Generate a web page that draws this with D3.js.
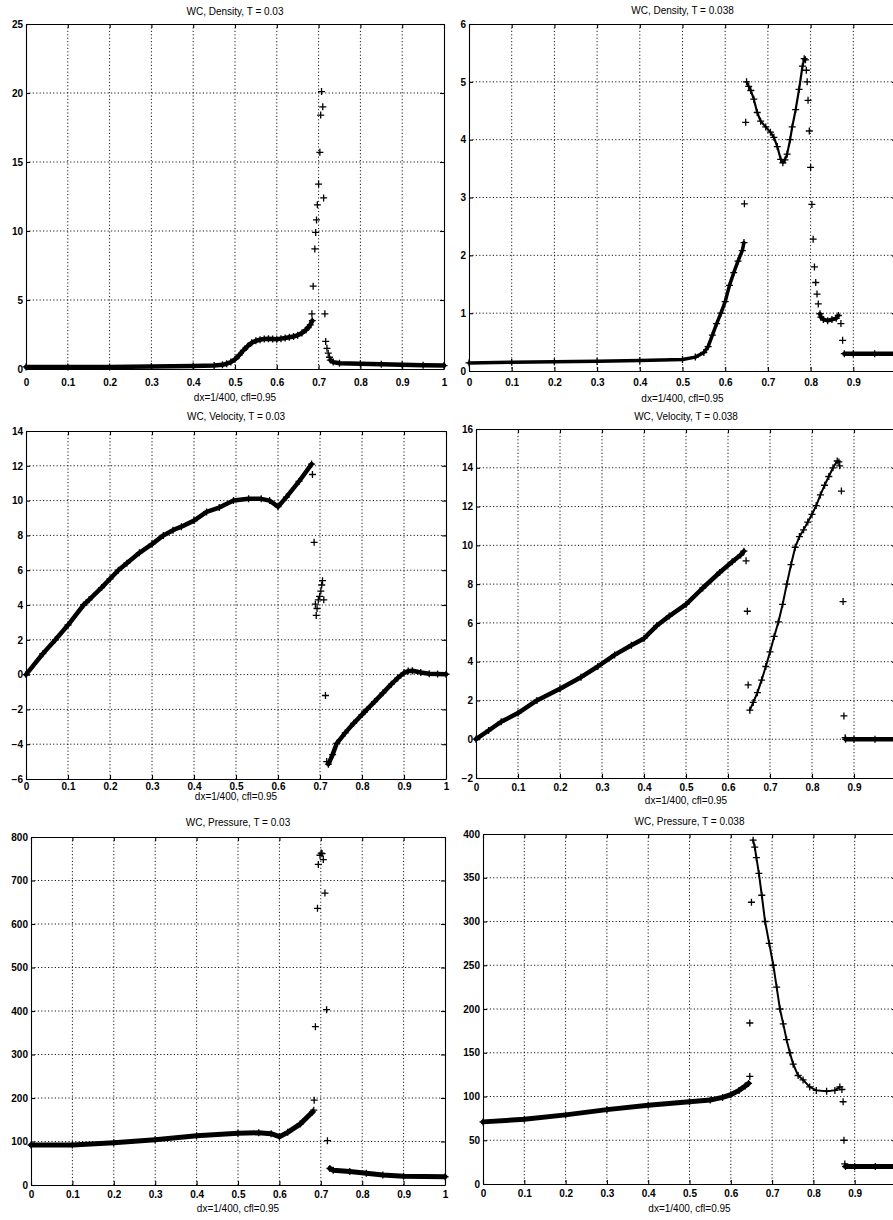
<!DOCTYPE html>
<html>
<head>
<meta charset="utf-8">
<style>
  body { margin: 0; background: #fff; }
  svg { display: block; font-family: "Liberation Sans", Arial, Helvetica, sans-serif; }
  .title, .xlab { font-size: 10px; fill: #000; text-anchor: middle; }
  .tick text { font-size: 10px; font-weight: bold; fill: #000; }
  .domain, .tick line { stroke: #000; stroke-width: 1.1; }
  .grid { stroke: #000; stroke-width: 0.9; stroke-dasharray: 1.2,2.2; }
</style>
<script src="https://cdn.jsdelivr.net/npm/d3@7/dist/d3.min.js"></script>
</head>
<body>
<div id="chart"></div>
<script>
// tick labels
var xTicks = [0, 0.1, 0.2, 0.3, 0.4, 0.5, 0.6, 0.7, 0.8, 0.9, 1];
var rhoTicks03 = [0, 5, 10, 15, 20, 25];
var rhoTicks038 = [0, 1, 2, 3, 4, 5, 6];
var velTicks03 = [-6, -4, -2, 0, 2, 4, 6, 8, 10, 12, 14];
var velTicks038 = [-2, 0, 2, 4, 6, 8, 10, 12, 14, 16];
var presTicks03 = [0, 100, 200, 300, 400, 500, 600, 700, 800];
var presTicks038 = [0, 50, 100, 150, 200, 250, 300, 350, 400];
var titles = ["WC, Density, T = 0.03", "WC, Density, T = 0.038",
              "WC, Velocity, T = 0.03", "WC, Velocity, T = 0.038",
              "WC, Pressure, T = 0.03", "WC, Pressure, T = 0.038"];
var xLabel = "dx=1/400, cfl=0.95";

// density T=0.03
var rho03A = [[0,0.15],[0.1,0.15],[0.2,0.15],[0.3,0.18],[0.4,0.22],[0.45,0.25],[0.47,0.3],[0.48,0.38],[0.49,0.5],
  [0.5,0.7],[0.51,1.0],[0.52,1.35],[0.53,1.65],[0.54,1.9],[0.55,2.05],[0.56,2.12],[0.57,2.18],[0.58,2.2],[0.59,2.18],
  [0.6,2.15],[0.61,2.2],[0.62,2.25],[0.63,2.3],[0.64,2.35],[0.65,2.45],[0.66,2.6],[0.67,2.85],[0.675,3.0],[0.68,3.2],[0.685,3.5]];
var rho03Pts = [[0.684,4.0],[0.687,6.0],[0.691,8.7],[0.693,9.9],[0.695,10.8],[0.697,11.9],[0.7,13.4],[0.703,15.7],
  [0.705,18.4],[0.707,20.1],[0.71,19.0],[0.712,12.4],[0.715,4.0],[0.717,2.0],[0.72,1.5],[0.723,1.15],[0.726,0.85]];
var rho03B = [[0.728,0.65],[0.735,0.5],[0.75,0.42],[0.8,0.38],[0.85,0.35],[0.9,0.3],[0.95,0.28],[1,0.25]];

// density T=0.038
var rho038A = [[0,0.14],[0.1,0.15],[0.2,0.16],[0.3,0.17],[0.4,0.18],[0.5,0.2],[0.53,0.24],[0.55,0.32],[0.56,0.42],
  [0.57,0.62],[0.58,0.82],[0.59,1.0],[0.6,1.2],[0.61,1.48],[0.62,1.7],[0.63,1.9],[0.64,2.08],[0.644,2.22]];
var rho038Pts1 = [[0.645,2.89],[0.648,4.3]];
var rho038B = [[0.65,5.0],[0.655,4.92],[0.66,4.85],[0.667,4.7],[0.675,4.47],[0.683,4.32],[0.695,4.22],[0.706,4.13],
  [0.714,4.04],[0.722,3.88],[0.73,3.66],[0.735,3.6],[0.74,3.65],[0.745,3.75],[0.752,4.0],[0.757,4.22],[0.765,4.52],
  [0.773,4.87],[0.781,5.27],[0.785,5.4],[0.788,5.38]];
var rho038Pts2 = [[0.79,5.2],[0.792,5.0],[0.794,4.68],[0.797,4.15],[0.8,3.52],[0.803,2.88],[0.806,2.28],[0.809,1.8],
  [0.812,1.53],[0.815,1.33],[0.818,1.16]];
var rho038C = [[0.822,0.99],[0.824,0.93],[0.83,0.89],[0.84,0.87],[0.85,0.89],[0.86,0.91],[0.865,0.96]];
var rho038Pts3 = [[0.871,0.82],[0.875,0.53]];
var rho038D = [[0.879,0.3],[0.9,0.3],[0.95,0.3],[1,0.3]];

// velocity T=0.03
var vel03A = [[0,0],[0.04,1.2],[0.07,2.0],[0.1,2.85],[0.137,4.0],[0.15,4.3],[0.18,5.0],[0.2,5.5],[0.22,6.0],[0.24,6.4],
  [0.27,7.0],[0.3,7.5],[0.327,8.0],[0.35,8.3],[0.37,8.5],[0.4,8.85],[0.43,9.35],[0.46,9.6],[0.494,10.0],[0.53,10.1],
  [0.56,10.1],[0.58,10.0],[0.6,9.65],[0.62,10.2],[0.65,11.1],[0.68,12.1]];
var vel03Pts = [[0.682,11.5],[0.686,7.6],[0.689,4.05],[0.691,3.4],[0.693,3.8],[0.696,4.3],[0.699,4.5],[0.702,4.8],
  [0.704,5.15],[0.706,5.4],[0.709,4.3],[0.713,-1.2],[0.716,-5.0]];
var vel03B = [[0.72,-5.15],[0.73,-4.6],[0.74,-3.95],[0.76,-3.35],[0.78,-2.8],[0.8,-2.3],[0.812,-2.0],[0.83,-1.55],
  [0.85,-1.05],[0.87,-0.55],[0.885,-0.2],[0.9,0.1],[0.91,0.2],[0.92,0.22],[0.94,0.12],[0.96,0.05],[0.98,0.03],[1,0.02]];

// velocity T=0.038
var vel038A = [[0,0],[0.03,0.45],[0.06,0.9],[0.1,1.35],[0.145,2.0],[0.2,2.6],[0.25,3.2],[0.29,3.75],[0.33,4.35],
  [0.37,4.85],[0.4,5.2],[0.43,5.85],[0.46,6.35],[0.5,6.95],[0.54,7.8],[0.58,8.6],[0.61,9.15],[0.63,9.5],[0.638,9.7]];
var vel038Pts1 = [[0.643,9.2],[0.646,6.6],[0.648,2.8]];
var vel038B = [[0.652,1.5],[0.66,1.9],[0.67,2.4],[0.68,3.05],[0.69,3.75],[0.7,4.5],[0.71,5.3],[0.72,6.05],[0.73,6.95],
  [0.74,8.0],[0.75,9.0],[0.76,9.9],[0.77,10.45],[0.78,10.8],[0.79,11.2],[0.8,11.6],[0.81,12.05],[0.82,12.6],
  [0.83,13.1],[0.84,13.55],[0.85,14.0],[0.86,14.35],[0.864,14.3]];
var vel038Pts2 = [[0.866,14.1],[0.87,12.8],[0.874,7.1],[0.876,1.2],[0.879,0.08]];
var vel038C = [[0.88,0],[0.9,0],[0.95,0],[1,0]];

// pressure T=0.03
var pres03A = [[0,92],[0.1,92],[0.2,97],[0.3,104],[0.4,113],[0.5,119],[0.55,120],[0.58,118],[0.6,111],[0.62,121],
  [0.65,140],[0.68,168]];
var pres03Pts = [[0.683,172],[0.684,195],[0.687,364],[0.692,636],[0.694,737],[0.698,758],[0.701,763],[0.703,762],
  [0.706,748],[0.71,671],[0.714,403],[0.716,102]];
var pres03B = [[0.722,38],[0.73,34],[0.77,31],[0.81,27],[0.85,23],[0.9,20],[1,19]];

// pressure T=0.038
var pres038A = [[0,71],[0.1,74],[0.2,79],[0.3,85],[0.4,90],[0.5,94],[0.55,96],[0.58,99],[0.6,102],[0.62,107],
  [0.635,112],[0.643,115]];
var pres038Pts1 = [[0.646,123],[0.646,184],[0.65,322]];
var pres038B = [[0.654,393],[0.658,385],[0.662,373],[0.668,355],[0.675,330],[0.683,300],[0.693,275],[0.703,250],
  [0.711,225],[0.719,200],[0.727,183],[0.735,165],[0.743,150],[0.751,137],[0.763,124],[0.775,119],[0.791,111],
  [0.807,107],[0.832,106],[0.852,107],[0.864,111]];
var pres038Pts2 = [[0.869,108],[0.872,94],[0.874,50],[0.876,23]];
var pres038C = [[0.878,20],[0.9,20],[0.95,20],[1,20]];

// layout of the six boxes (pixel positions of each plot area)
// right column runs past the page edge, so its "1" label is not shown
var panels = [
  {x0: 26, x1: 444, y0: 24, y1: 369, dom: [0, 25], ticks: rhoTicks03, tpad: 10, tY: 15, lY: 401, cut: false,
   curves: [[rho03A, 4.5], [rho03B, 4.5]], pts: [rho03Pts]},
  {x0: 469, x1: 896, y0: 24, y1: 371, dom: [0, 6], ticks: rhoTicks038, tpad: 8, tY: 14, lY: 402, cut: true,
   curves: [[rho038A, 3.5], [rho038B, 2.2], [rho038C, 4], [rho038D, 4.5]], pts: [rho038Pts1, rho038Pts2, rho038Pts3]},
  {x0: 26, x1: 446, y0: 431, y1: 779, dom: [-6, 14], ticks: velTicks03, tpad: 4, tY: 420, lY: 800, cut: false,
   curves: [[vel03A, 4.5], [vel03B, 4.5]], pts: [vel03Pts]},
  {x0: 476, x1: 896, y0: 429, y1: 778, dom: [-2, 16], ticks: velTicks038, tpad: 6, tY: 420, lY: 804, cut: true,
   curves: [[vel038A, 4.5], [vel038B, 2], [vel038C, 4.5]], pts: [vel038Pts1, vel038Pts2]},
  {x0: 31, x1: 445, y0: 837, y1: 1185, dom: [0, 800], ticks: presTicks03, tpad: 6, tY: 826, lY: 1212, cut: false,
   curves: [[pres03A, 5], [pres03B, 5]], pts: [pres03Pts]},
  {x0: 483, x1: 896, y0: 834, y1: 1184, dom: [0, 400], ticks: presTicks038, tpad: 6, tY: 825, lY: 1212, cut: true,
   curves: [[pres038A, 5], [pres038B, 2], [pres038C, 5]], pts: [pres038Pts1, pres038Pts2]}
];

var svg = d3.select("#chart").append("svg")
  .attr("width", 893).attr("height", 1220);

var plus = "M-3.5,0H3.5M0,-3.5V3.5";
var fmt = d3.format("~g");

panels.forEach(function (p, i) {
  var x = d3.scaleLinear().domain([0, 1]).range([p.x0, p.x1]);
  var y = d3.scaleLinear().domain(p.dom).range([p.y1, p.y0]);
  var g = svg.append("g");

  // dotted grid
  g.selectAll(".vg").data(xTicks.slice(1, -1)).enter().append("line")
    .attr("class", "grid")
    .attr("x1", function (d) { return x(d); }).attr("x2", function (d) { return x(d); })
    .attr("y1", p.y0).attr("y2", p.y1);
  g.selectAll(".hg").data(p.ticks.slice(1, -1)).enter().append("line")
    .attr("class", "grid")
    .attr("x1", p.x0).attr("x2", p.x1)
    .attr("y1", function (d) { return y(d); }).attr("y2", function (d) { return y(d); });

  // box with inward ticks
  g.append("g").attr("transform", "translate(0," + p.y1 + ")")
    .call(d3.axisBottom(x).tickValues(xTicks)
      .tickFormat(function (d) { return (p.cut && d === 1) ? "" : fmt(d); })
      .tickSize(-4).tickSizeOuter(0).tickPadding(p.tpad));
  g.append("g").attr("transform", "translate(0," + p.y0 + ")")
    .call(d3.axisTop(x).tickValues(xTicks).tickFormat("").tickSize(-4).tickSizeOuter(0));
  g.append("g").attr("transform", "translate(" + p.x0 + ",0)")
    .call(d3.axisLeft(y).tickValues(p.ticks).tickFormat(fmt)
      .tickSize(-4).tickSizeOuter(0).tickPadding(3));
  g.append("g").attr("transform", "translate(" + p.x1 + ",0)")
    .call(d3.axisRight(y).tickValues(p.ticks).tickFormat("").tickSize(-4).tickSizeOuter(0));
  g.selectAll("g").attr("font-size", null).attr("font-family", null);

  // dense parts of the solution
  var line = d3.line().x(function (d) { return x(d[0]); }).y(function (d) { return y(d[1]); });
  p.curves.forEach(function (c) {
    g.append("path").datum(c[0])
      .attr("d", line)
      .attr("fill", "none").attr("stroke", "#000")
      .attr("stroke-width", c[1]).attr("stroke-linejoin", "round").attr("stroke-linecap", "round");
  });

  // '+' markers
  var all = [];
  p.curves.forEach(function (c) { all = all.concat(c[0]); });
  p.pts.forEach(function (s) { all = all.concat(s); });
  g.selectAll(".mk").data(all).enter().append("path")
    .attr("d", plus)
    .attr("transform", function (d) { return "translate(" + x(d[0]) + "," + y(d[1]) + ")"; })
    .attr("stroke", "#000").attr("stroke-width", 1.3).attr("fill", "none");

  g.append("text").attr("class", "title")
    .attr("x", (p.x0 + p.x1) / 2).attr("y", p.tY).text(titles[i]);
  g.append("text").attr("class", "xlab")
    .attr("x", (p.x0 + p.x1) / 2).attr("y", p.lY).text(xLabel);
});
</script>
</body>
</html>
